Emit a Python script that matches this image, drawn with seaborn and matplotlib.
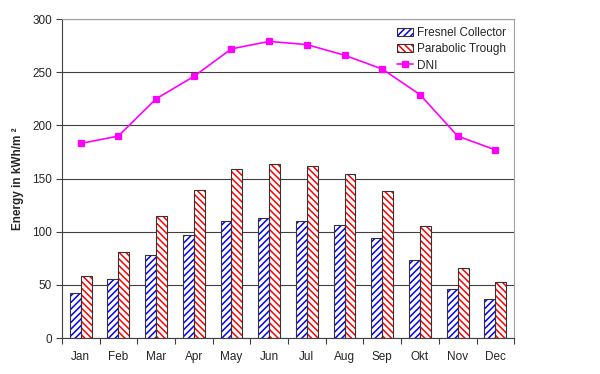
import numpy as np
import pandas as pd
import matplotlib.pyplot as plt
import seaborn as sns
from matplotlib.patches import Patch
from matplotlib.lines import Line2D
from matplotlib.legend_handler import HandlerTuple
from matplotlib.ticker import FixedLocator

# =========================
# DATA
# =========================

months = ["Jan", "Feb", "Mar", "Apr", "May", "Jun",
          "Jul", "Aug", "Sep", "Okt", "Nov", "Dec"]

fresnel = [42, 56, 78, 97, 110, 113, 110, 106, 94, 73, 46, 37]

trough = [58, 81, 115, 139, 159, 164, 162, 154, 138, 105, 66, 53]

dni = [183, 190, 225, 246, 272, 279, 276, 266, 253, 229, 190, 177]

series_names = ["Fresnel Collector", "Parabolic Trough"]

df = pd.DataFrame({
    "month": months * 2,
    "energy": fresnel + trough,
    "series": [series_names[0]] * 12 + [series_names[1]] * 12,
})

# =========================
# STYLE
# =========================

sns.set_style("white")
plt.rcParams["font.family"] = ["Liberation Sans", "DejaVu Sans"]
plt.rcParams["hatch.linewidth"] = 1.1

BLUE = "#0000ff"
RED = "#ff0000"
MAGENTA = "#ff00ff"
EDGE = "#333333"
HATCHES = ["/////", "\\\\\\\\\\"]

fig, ax = plt.subplots(figsize=(6, 3.74), dpi=100)
fig.subplots_adjust(left=0.103, right=0.857, bottom=0.096, top=0.949)

# hatched fill layer
sns.barplot(
    data=df, x="month", y="energy", hue="series",
    palette=["white", "white"], saturation=1,
    width=0.58, gap=0, legend=False, ax=ax,
)

for container, col, hatch in zip(ax.containers[:2], [BLUE, RED], HATCHES):
    for bar in container:
        bar.set_hatch(hatch)
        bar.set_edgecolor(col)
        bar.set_linewidth(0)

# outline layer
sns.barplot(
    data=df, x="month", y="energy", hue="series",
    palette=[EDGE, EDGE], fill=False, linewidth=0.8,
    width=0.58, gap=0, legend=False, ax=ax,
)

# DNI line
sns.pointplot(
    x=months, y=dni, color=MAGENTA, marker="s", markersize=4.5,
    linewidth=1.2, ax=ax, zorder=5,
)

# =========================
# AXES
# =========================

ax.set_xlim(-0.5, 11.5)
ax.set_ylim(0, 300)
ax.set_yticks(np.arange(0, 301, 50))
ax.set_axisbelow(True)
ax.yaxis.grid(True, color="#404040", linewidth=0.8)
ax.xaxis.grid(False)

ax.set_xlabel("")
ax.set_ylabel("Energy in kWh/m ²", fontsize=8.5, fontweight="bold", labelpad=6)

ax.xaxis.set_minor_locator(FixedLocator(np.arange(-0.5, 12, 1)))
ax.tick_params(axis="x", which="major", length=0, pad=9, labelsize=8.5)
ax.tick_params(axis="x", which="minor", length=4, width=0.8,
               color="#404040", direction="out", bottom=True)
ax.tick_params(axis="y", which="major", length=4, width=0.8,
               color="#404040", direction="out", left=True,
               pad=3, labelsize=8.5)

for side in ["left", "bottom"]:
    ax.spines[side].set_color("#404040")
    ax.spines[side].set_linewidth(0.8)
for side in ["top", "right"]:
    ax.spines[side].set_color("#a0a0a0")
    ax.spines[side].set_linewidth(0.8)

# =========================
# LEGEND
# =========================

handles = [
    (Patch(facecolor="white", edgecolor=BLUE, hatch=HATCHES[0], linewidth=0),
     Patch(facecolor="none", edgecolor=EDGE, linewidth=0.8)),
    (Patch(facecolor="white", edgecolor=RED, hatch=HATCHES[1], linewidth=0),
     Patch(facecolor="none", edgecolor=EDGE, linewidth=0.8)),
    Line2D([], [], color=MAGENTA, marker="s", markersize=4.5, linewidth=1.2),
]
labels = series_names + ["DNI"]

ax.legend(
    handles, labels,
    handler_map={tuple: HandlerTuple(ndivide=1, pad=0)},
    loc="upper right", frameon=False, fontsize=8.5,
    handlelength=1.4, handletextpad=0.3, labelspacing=0.35,
    borderaxespad=0.3,
)

plt.savefig("out.png", dpi=100)
